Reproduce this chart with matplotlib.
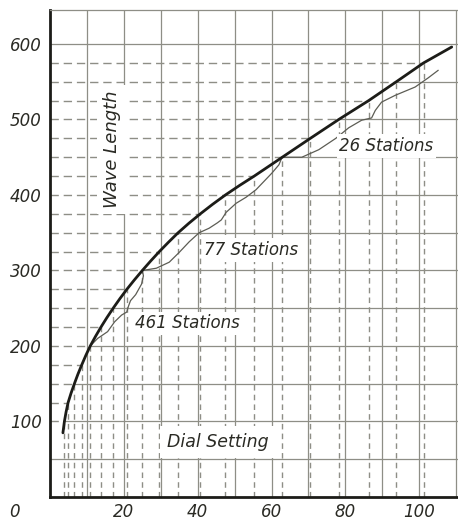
import numpy as np
import matplotlib.pyplot as plt

# Dial setting (every 12.5 m of wave length low down)
curve_wave = [85, 100, 112.5, 125, 137.5, 150, 162.5, 175, 187.5, 200, 212.5,
              225, 237.5, 250, 262.5, 275, 287.5, 300, 312.5, 325, 337.5, 350,
              362.5, 375, 387.5, 400, 412.5, 425, 437.5, 450, 462.5, 475, 500,
              525, 550, 575, 596]
curve_dial = [3.5, 3.9, 4.35, 4.9, 5.7, 6.6, 7.55, 8.6, 9.7, 10.9, 12.3,
              13.8, 15.4, 17.1, 18.9, 20.8, 22.85, 25.0, 27.25, 29.6, 32.1, 34.7,
              37.6, 40.7, 44.0, 47.5, 51.3, 55.3, 59.1, 62.9, 66.7, 70.5, 78.2,
              86.3, 93.8, 101.2, 108.8]

# Station bands (thin curve), one list pair per band
band1_dial = [10.9, 12.9, 15.6, 17.5, 19.4, 20.8, 21.2, 21.8, 23.2, 24.8, 25.3, 25.0]
band1_wave = [200, 210, 219, 232, 241, 245, 252, 260, 268, 282, 293, 300]
band2_dial = [25.0, 28.8, 32.3, 35.0, 37.7, 40.4, 43.1, 45.3, 46.4, 47.7,
              50.4, 53.1, 55.8, 60.1, 62.0, 62.5, 62.9]
band2_wave = [300, 303, 311, 324, 338, 350, 356, 363, 367, 377,
              389, 397, 407, 429, 440, 446, 450]
band3_dial = [62.9, 68.2, 72.8, 77.4, 80.9, 84.4, 87.1, 88.1, 89.8, 93.5, 98.9, 102.4, 105.1]
band3_wave = [450, 450, 460, 475, 489, 499, 502, 512, 523, 532, 543, 555, 565]

band_labels = ['461 Stations', '77 Stations', '26 Stations']
band_label_pos = [(22.9, 230), (41.8, 327), (78.4, 465)]

x_ticks = [20, 40, 60, 80, 100]
y_ticks = [100, 200, 300, 400, 500, 600]

XMAX, YMAX = 110.5, 645
ink = '#2a2a24'
grid = '#8e8e86'
thin = '#5c5c54'

fig = plt.figure(figsize=(4.58, 5.2), dpi=100)
ax = fig.add_axes([50 / 458, 23 / 520, 408 / 458, 487 / 520])
ax.set_xlim(0, XMAX)
ax.set_ylim(0, YMAX)

# solid square grid; horizontals only run from the curve to the right
for d in range(10, 111, 10):
    ax.axvline(d, color=grid, lw=0.9, zorder=1)
for w in range(50, 601, 50):
    if w < curve_wave[0] or w >= 600:
        x0 = 0
    else:
        x0 = np.interp(w, curve_wave, curve_dial)
    ax.plot([x0, XMAX], [w, w], color=grid, lw=0.9, zorder=1)

# dashed projections from the curve to both axes, every 25 m
for w, d in zip(curve_wave[1:-1], curve_dial[1:-1]):
    if w % 25:
        continue
    ax.plot([0, d], [w, w], color=grid, lw=1.0, ls=(0, (6, 3.5)), zorder=2)
    ax.plot([d, d], [0, w], color=grid, lw=1.0, ls=(0, (4, 3)), zorder=2)

# station bands and the calibration curve
for bd, bw in [(band1_dial, band1_wave), (band2_dial, band2_wave), (band3_dial, band3_wave)]:
    ax.plot(bd, bw, color=thin, lw=0.9, zorder=4)
ax.plot(curve_dial, curve_wave, color='#1c1c18', lw=2.0, zorder=5,
        solid_capstyle='round', solid_joinstyle='round')

txt = dict(color=ink, fontstyle='italic', family='DejaVu Sans', zorder=6)
box = dict(facecolor='white', edgecolor='none', pad=2)
for label, (x, y) in zip(band_labels, band_label_pos):
    ax.text(x, y, label, fontsize=12, ha='left', va='center', bbox=box, **txt)
ax.text(31.8, 73, 'Dial Setting', fontsize=12.5, ha='left', va='center',
        bbox=dict(facecolor='white', edgecolor='none', pad=5), **txt)
ax.text(16.8, 460, 'Wave Length', fontsize=13, ha='center', va='center',
        rotation=90, bbox=dict(facecolor='white', edgecolor='none', pad=4), **txt)

ax.set_xticks(x_ticks)
ax.set_yticks(y_ticks)
ax.tick_params(length=0, labelsize=12, labelcolor=ink)
ax.tick_params(axis='y', pad=6)
ax.tick_params(axis='x', pad=4)
for lbl in ax.get_xticklabels() + ax.get_yticklabels():
    lbl.set_fontstyle('italic')
ax.text(-9.7, -20, '0', fontsize=12, ha='center', va='center', clip_on=False, **txt)

ax.spines['top'].set_color(grid)
ax.spines['top'].set_linewidth(0.9)
ax.spines['right'].set_visible(False)
for side in ['left', 'bottom']:
    ax.spines[side].set_color('#1c1c18')
    ax.spines[side].set_linewidth(2.0)

fig.savefig('out.png', dpi=100)
